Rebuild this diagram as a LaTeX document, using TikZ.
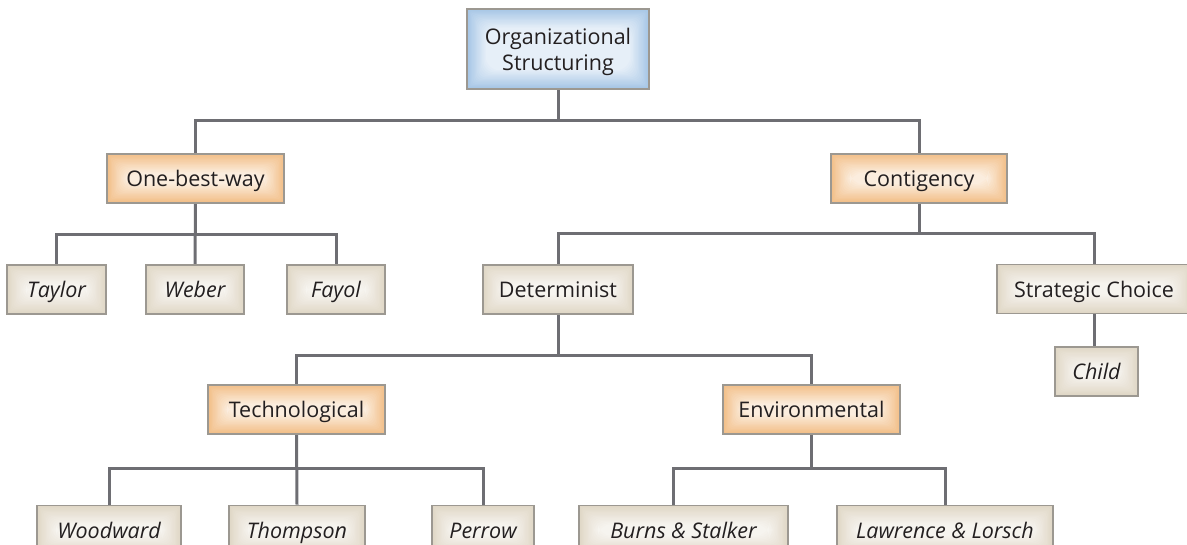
\documentclass[tikz,border=0pt]{standalone}
\usepackage{fontspec}
\setmainfont{Open Sans}
\usetikzlibrary{backgrounds}

\definecolor{linegray}{HTML}{6E6E73}
\definecolor{bordergray}{HTML}{9C9891}
\definecolor{blueedge}{HTML}{A6C6E6}
\definecolor{orangeedge}{HTML}{F2BF88}
\definecolor{beigeedge}{HTML}{E0D7C6}
\definecolor{inktext}{HTML}{231F20}

\tikzset{
  % soft inner glow: nested insets fading from the edge colour towards white
  glow/.style={path picture={
    \foreach \k in {0,...,15}{
      \pgfmathsetmacro\pc{100-\k*4.8}
      \pgfmathsetmacro\rc{\k*0.9}
      \fill[#1!\pc!white, rounded corners=\rc pt]
        ([shift={(\k*1.25pt,\k*1.25pt)}]path picture bounding box.south west)
        rectangle
        ([shift={(-\k*1.25pt,-\k*1.25pt)}]path picture bounding box.north east);
    }}},
  basebox/.style={draw=bordergray, line width=1.8pt, inner sep=0pt,
    text=inktext, align=center,
    font=\fontsize{21.5}{25.5}\selectfont},
  box/.style={basebox, minimum height=49pt,
    text height=16.5pt, text depth=0pt},
  rootbox/.style={basebox, glow=blueedge, minimum height=80pt},
  groupbox/.style={box, glow=orangeedge},
  topicbox/.style={box, glow=beigeedge},
  namebox/.style={box, glow=beigeedge, font=\fontsize{21.5}{25.5}\selectfont\itshape},
  link/.style={draw=linegray, line width=3pt}
}

\begin{document}
\begin{tikzpicture}[x=1pt, y=-1pt]
  \path[use as bounding box, clip] (0,0) rectangle (1187,545);

  % root
  \node[rootbox, minimum width=182pt] (root) at (558,49)
    {\rule{0pt}{22pt}Organizational\\Structuring};

  % first level
  \node[groupbox, minimum width=177pt] (one)  at (195.5,178.5) {One-best-way};
  \node[groupbox, minimum width=176pt] (cont) at (919,178.5) {Contigency};

  % second level
  \node[namebox, minimum width=99pt]  (taylor) at (56.5,289.5) {Taylor};
  \node[namebox, minimum width=98pt]  (weber)  at (195,289.5) {Weber};
  \node[namebox, minimum width=98pt]  (fayol)  at (336,289.5) {Fayol};
  \node[topicbox, minimum width=150pt] (det)   at (558,289.5) {Determinist};
  \node[topicbox, minimum width=194pt] (strat) at (1094,289) {Strategic Choice};

  % third level
  \node[namebox, minimum width=83pt] (child) at (1096.5,371.5) {Child};
  \node[groupbox, minimum width=177pt] (tech) at (296.5,409.5) {Technological};
  \node[groupbox, minimum width=177pt] (env)  at (811.5,409.5) {Environmental};

  % fourth level
  \node[namebox, minimum width=144pt] (wood)  at (109,530) {Woodward};
  \node[namebox, minimum width=136pt] (thomp) at (297,530) {Thompson};
  \node[namebox, minimum width=102pt] (perr)  at (483,530) {Perrow};
  \node[namebox, minimum width=209pt] (burns) at (683.5,530) {Burns \& Stalker};
  \node[namebox, minimum width=216pt] (lawr)  at (945,530) {Lawrence \& Lorsch};

  % connectors
  \begin{scope}[on background layer]
    \draw[link] (root.south) -- ++(0,31) -| (one.north);
    \draw[link] (root.south) -- ++(0,31) -| (cont.north);

    \draw[link] (one.south) -- ++(0,31) -| (taylor.north);
    \draw[link] (one.south) -- ++(0,31) -| (fayol.north);
    \draw[link] (one.south) -- (weber.north);

    \draw[link] (cont.south) -- ++(0,30) -| (det.north);
    \draw[link] (cont.south) -- ++(0,30) -| (strat.north);
    \draw[link] (strat.south) -- (strat.south |- child.north);

    \draw[link] (det.south) -- ++(0,41) -| (tech.north);
    \draw[link] (det.south) -- ++(0,41) -| (env.north);

    \draw[link] (tech.south) -- ++(0,34) -| (wood.north);
    \draw[link] (tech.south) -- ++(0,34) -| (perr.north);
    \draw[link] (tech.south) -- (thomp.north);

    \draw[link] (env.south) -- ++(0,34) -| ([xshift=-10pt]burns.north);
    \draw[link] (env.south) -- ++(0,34) -| (lawr.north);
  \end{scope}
\end{tikzpicture}
\end{document}
